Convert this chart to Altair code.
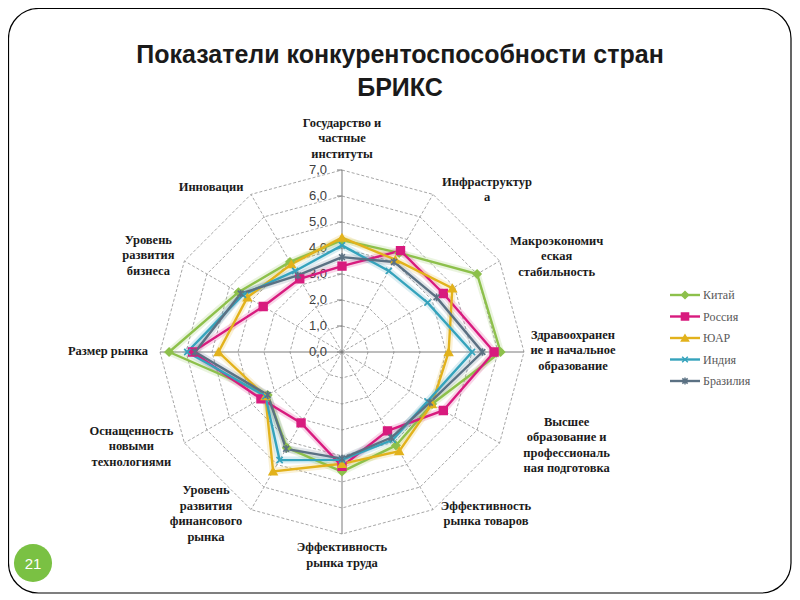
import altair as alt
import pandas as pd

# ---------------- data ----------------
CATEGORIES = [
    "Государство и\nчастные\nинституты",
    "Инфраструктур\nа",
    "Макроэкономич\nеская\nстабильность",
    "Здравоохранен\nие и начальное\nобразование",
    "Высшее\nобразование и\nпрофессиональ\nная подготовка",
    "Эффективность\nрынка товаров",
    "Эффективность\nрынка труда",
    "Уровень\nразвития\nфинансового\nрынка",
    "Оснащенность\nновыми\nтехнологиями",
    "Размер рынка",
    "Уровень\nразвития\nбизнеса",
    "Инновации",
]
SERIES = ["Китай", "Россия", "ЮАР", "Индия", "Бразилия"]
CHINA = [4.3, 4.4, 6.0, 6.1, 4.0, 4.15, 4.6, 4.25, 3.3, 6.65, 4.6, 4.0]
RUSSIA = [3.3, 4.5, 4.5, 5.85, 4.5, 3.5, 4.4, 3.15, 3.6, 5.75, 3.5, 3.25]
SAR = [4.4, 4.1, 4.9, 4.1, 4.0, 4.4, 4.3, 5.3, 3.4, 4.75, 4.2, 3.9]
INDIA = [4.1, 3.6, 3.8, 5.0, 3.8, 3.9, 4.15, 4.8, 3.4, 5.95, 4.4, 3.6]
BRAZIL = [3.65, 4.0, 4.2, 5.4, 3.9, 3.8, 4.1, 4.3, 3.3, 5.65, 4.5, 3.4]
LEVELS = [0, 1, 2, 3, 4, 5, 6, 7]
TICK_LABELS = ["0,0", "1,0", "2,0", "3,0", "4,0", "5,0", "6,0", "7,0"]
TITLE = "Показатели конкурентоспособности стран\nБРИКС"
PAGE = "21"

# ---------------- layout / style ----------------
COLORS = ["#8DC04B", "#D81B7E", "#E2B21C", "#35A3BC", "#5B7183"]
SHAPES = [
    "diamond",
    "square",
    "triangle-up",
    "M-0.8,-0.8L0.8,0.8M-0.8,0.8L0.8,-0.8",
    "M-0.75,-0.75L0.75,0.75M-0.75,0.75L0.75,-0.75M0,-1L0,1",
]
W, H = 784, 588
CX, CY = 334, 344
PX = 26.0
RMAX = 7
LINE_H = 15.5
LABEL_OFF = [(0, -32), (54, -5), (57, -5), (49, -2), (67, 2), (53, 4),
             (0, 21), (-45, 4), (-53, 3), (-52, -1), (-36, -6), (-40, -7)]
LEG_X, LEG_Y, LEG_DY = 662, 287, 21.5

xs = alt.Scale(domain=[-CX / PX, (W - CX) / PX], nice=False, zero=False)
ys = alt.Scale(domain=[-(H - CY) / PX, CY / PX], nice=False, zero=False)


def X(f):
    return alt.X(f, type="quantitative", scale=xs, axis=None)


def Y(f):
    return alt.Y(f, type="quantitative", scale=ys, axis=None)


ANG = "datum.k * PI / 6"

# series table
rows = []
for s, vals in zip(SERIES, [CHINA, RUSSIA, SAR, INDIA, BRAZIL]):
    for k in range(13):
        rows.append({"series": s, "k": k, "value": vals[k % 12]})
df = pd.DataFrame(rows)

grid = pd.DataFrame([{"level": lv, "k": k} for lv in LEVELS[1:] for k in range(13)])
spokes = pd.DataFrame({"k": list(range(12))})
ticks = pd.DataFrame({"level": LEVELS, "label": TICK_LABELS})
labels = pd.DataFrame({
    "k": list(range(12)),
    "text": CATEGORIES,
    "n": [c.count("\n") + 1 for c in CATEGORIES],
    "ox": [o[0] for o in LABEL_OFF],
    "oy": [o[1] for o in LABEL_OFF],
})
legend = pd.DataFrame({"series": SERIES, "row": list(range(len(SERIES)))})

color_s = alt.Scale(domain=SERIES, range=COLORS)
shape_s = alt.Scale(domain=SERIES, range=SHAPES)

one = pd.DataFrame({"a": [0]})

border = alt.Chart(one).mark_rect(
    fill="#ffffff", stroke="#000000", strokeWidth=1.2, cornerRadius=30
).encode(x=alt.value(0.5), x2=alt.value(783), y=alt.value(0.5), y2=alt.value(585))

grid_l = alt.Chart(grid).transform_calculate(
    gx=f"datum.level * sin({ANG})", gy=f"datum.level * cos({ANG})"
).mark_line(color="#8f8f8f", strokeWidth=0.8, strokeDash=[3, 2]).encode(
    x=X("gx"), y=Y("gy"), detail="level:N", order="k:Q"
)

spoke_base = alt.Chart(spokes).transform_calculate(
    x0="0", y0="0", x1=f"{RMAX} * sin({ANG})", y1=f"{RMAX} * cos({ANG})", main="datum.k % 3 == 0"
)
spokes_dash = spoke_base.transform_filter("!datum.main").mark_rule(
    color="#8f8f8f", strokeWidth=0.8, strokeDash=[3, 2]
).encode(x=X("x0"), y=Y("y0"), x2=alt.X2("x1"), y2=alt.Y2("y1"))
spokes_solid = spoke_base.transform_filter("datum.main").mark_rule(
    color="#7a7a7a", strokeWidth=1
).encode(x=X("x0"), y=Y("y0"), x2=alt.X2("x1"), y2=alt.Y2("y1"))

tick_marks = alt.Chart(ticks).transform_calculate(
    tx0=f"-5 / {PX}", tx1="0"
).mark_rule(color="#7a7a7a", strokeWidth=1).encode(
    x=X("tx0"), x2=alt.X2("tx1"), y=Y("level")
)
tick_text = alt.Chart(ticks).transform_calculate(
    tx=f"-15 / {PX}"
).mark_text(align="right", baseline="middle", font="Liberation Sans", fontSize=13,
            color="#404040").encode(x=X("tx"), y=Y("level"), text="label:N")

cat_text = alt.Chart(labels).transform_calculate(
    lx=f"{RMAX} * sin({ANG}) + datum.ox / {PX}",
    ly=f"{RMAX} * cos({ANG}) - datum.oy / {PX} + (datum.n - 1) * {LINE_H} / 2 / {PX}",
).mark_text(align="center", baseline="middle", lineBreak="\n", lineHeight=LINE_H,
            font="Liberation Serif", fontWeight="bold", fontSize=12.5,
            color="#1a1a1a").encode(x=X("lx"), y=Y("ly"), text="text:N")

series_base = alt.Chart(df).transform_calculate(
    px=f"datum.value * sin({ANG})", py=f"datum.value * cos({ANG})"
)
glow = series_base.mark_line(strokeWidth=7, opacity=0.18).encode(
    x=X("px"), y=Y("py"), order="k:Q",
    color=alt.Color("series:N", scale=color_s, legend=None),
)
lines = series_base.mark_line(strokeWidth=2.4).encode(
    x=X("px"), y=Y("py"), order="k:Q",
    color=alt.Color("series:N", scale=color_s, legend=None),
)
points = series_base.transform_filter("datum.k < 12").mark_point(
    filled=True, size=60, strokeWidth=1.6, opacity=1
).encode(
    x=X("px"), y=Y("py"),
    fill=alt.Fill("series:N", scale=color_s, legend=None),
    stroke=alt.Stroke("series:N", scale=color_s, legend=None),
    shape=alt.Shape("series:N", scale=shape_s, legend=None),
)

leg_base = alt.Chart(legend).transform_calculate(
    lx0=f"({LEG_X} - {CX}) / {PX}",
    lx1=f"({LEG_X} + 30 - {CX}) / {PX}",
    lxm=f"({LEG_X} + 15 - {CX}) / {PX}",
    ltx=f"({LEG_X} + 33 - {CX}) / {PX}",
    ly=f"({CY} - ({LEG_Y} + datum.row * {LEG_DY})) / {PX}",
)
leg_lines = leg_base.mark_rule(strokeWidth=2.4).encode(
    x=X("lx0"), x2=alt.X2("lx1"), y=Y("ly"),
    color=alt.Color("series:N", scale=color_s, legend=None),
)
leg_pts = leg_base.mark_point(filled=True, size=50, strokeWidth=1.5, opacity=1).encode(
    x=X("lxm"), y=Y("ly"),
    fill=alt.Fill("series:N", scale=color_s, legend=None),
    stroke=alt.Stroke("series:N", scale=color_s, legend=None),
    shape=alt.Shape("series:N", scale=shape_s, legend=None),
)
leg_text = leg_base.mark_text(align="left", baseline="middle", font="Liberation Serif",
                              fontSize=12, color="#595959").encode(
    x=X("ltx"), y=Y("ly"), text="series:N"
)

title = alt.Chart(pd.DataFrame({"t": [TITLE]})).mark_text(
    align="center", baseline="middle", lineBreak="\n", lineHeight=33,
    font="Liberation Sans", fontWeight="bold", fontSize=25, color="#1a1a1a"
).encode(x=alt.value(392), y=alt.value(47), text="t:N")

badge = alt.Chart(one).mark_point(filled=True, shape="circle", size=1450,
                                  color="#7AC143", opacity=1).encode(
    x=alt.value(25), y=alt.value(555))
badge_t = alt.Chart(pd.DataFrame({"t": [PAGE]})).mark_text(
    align="center", baseline="middle", font="Liberation Sans", fontSize=15, color="#ffffff"
).encode(x=alt.value(25), y=alt.value(556), text="t:N")

chart = alt.layer(
    border, grid_l, spokes_dash, spokes_solid, tick_marks, tick_text, cat_text,
    glow, lines, points, leg_lines, leg_pts, leg_text, title, badge, badge_t
).properties(width=W, height=H, padding=0, autosize=alt.AutoSizeParams(type="none")
).configure_view(stroke=None)

chart.save("out.html", embed_options={"renderer": "svg", "actions": False})
